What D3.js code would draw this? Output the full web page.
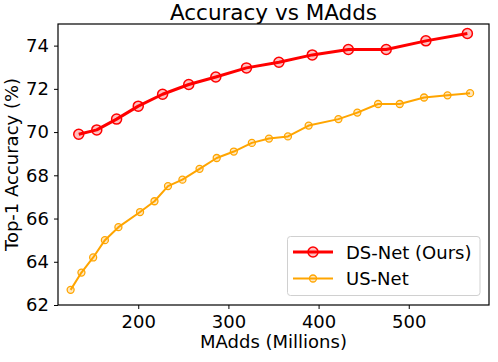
<!DOCTYPE html>
<html><head><meta charset="utf-8">
<script src="https://cdn.jsdelivr.net/npm/d3@7/dist/d3.min.js"></script>
<style>body{margin:0;background:#fff}svg{display:block}text{font-family:"DejaVu Sans",sans-serif}</style>
</head><body><div id="c"></div>
<script>
const dsX = [134, 154, 176, 200, 227, 256, 286, 320, 356, 393, 433, 475, 519, 565];
const dsY = [69.9, 70.1, 70.6, 71.2, 71.75, 72.2, 72.55, 72.97, 73.23, 73.57, 73.82, 73.82, 74.22, 74.56];
const usX = [125, 137, 150, 163, 178, 202, 218, 233, 249, 268, 287, 306, 326, 345, 366, 389, 422, 443, 466, 490, 517, 543, 568];
const usY = [62.7, 63.5, 64.2, 65.0, 65.6, 66.3, 66.8, 67.5, 67.8, 68.3, 68.8, 69.1, 69.5, 69.7, 69.8, 70.3, 70.6, 70.9, 71.3, 71.3, 71.6, 71.7, 71.8];
const xTicks = [200, 300, 400, 500];
const yTicks = [62, 64, 66, 68, 70, 72, 74];
const seriesNames = ["DS-Net (Ours)", "US-Net"];

const W = 498, H = 362;
const m = {l: 58, r: 9, t: 24, b: 57};
const svg = d3.select("#c").append("svg").attr("width", W).attr("height", H);
const x = d3.scaleLinear().domain([111, 589]).range([m.l, W - m.r]);
const y = d3.scaleLinear().domain([62, 75]).range([H - m.b, m.t]);

const gx = svg.append("g").attr("transform", `translate(0,${H - m.b})`)
  .call(d3.axisBottom(x).tickValues(xTicks).tickSize(4).tickPadding(6));
const gy = svg.append("g").attr("transform", `translate(${m.l},0)`)
  .call(d3.axisLeft(y).tickValues(yTicks).tickSize(4).tickPadding(5));
[gx, gy].forEach(g => {
  g.select(".domain").remove();
  g.selectAll("text").attr("font-size", 18).attr("fill", "#000").attr("font-family", "DejaVu Sans");
  g.selectAll("line").attr("stroke", "#000").attr("stroke-width", 1);
});

const series = [
  {name: seriesNames[0], xs: dsX, ys: dsY, color: "#ff0000", lw: 3, r: 5, mw: 1.5},
  {name: seriesNames[1], xs: usX, ys: usY, color: "#ffa500", lw: 2, r: 3.5, mw: 1.3}
];
const line = d3.line().x(d => x(d[0])).y(d => y(d[1]));
[series[1], series[0]].forEach(s => {
  const pts = s.xs.map((v, i) => [v, s.ys[i]]);
  svg.append("path").datum(pts).attr("d", line).attr("fill", "none")
    .attr("stroke", s.color).attr("stroke-width", s.lw).attr("stroke-linejoin", "round");
  svg.append("g").selectAll("circle").data(pts).join("circle")
    .attr("cx", d => x(d[0])).attr("cy", d => y(d[1])).attr("r", s.r)
    .attr("fill", s.color).attr("fill-opacity", 0.25)
    .attr("stroke", s.color).attr("stroke-width", s.mw);
});

svg.append("rect").attr("x", m.l).attr("y", m.t).attr("width", W - m.r - m.l).attr("height", H - m.b - m.t)
  .attr("fill", "none").attr("stroke", "#000").attr("stroke-width", 1.2);

svg.append("text").attr("x", (m.l + W - m.r) / 2).attr("y", 19.5).attr("text-anchor", "middle")
  .attr("font-size", 21.5).text("Accuracy vs MAdds");
svg.append("text").attr("x", (m.l + W - m.r) / 2).attr("y", 348).attr("text-anchor", "middle")
  .attr("font-size", 18).text("MAdds (Millions)");
svg.append("text").attr("transform", `translate(18,${(m.t + H - m.b) / 2}) rotate(-90)`)
  .attr("text-anchor", "middle").attr("font-size", 18).text("Top-1 Accuracy (%)");

const lg = svg.append("g");
lg.append("rect").attr("x", 287.5).attr("y", 236.5).attr("width", 192.5).attr("height", 59).attr("rx", 3)
  .attr("fill", "#fff").attr("fill-opacity", 0.8).attr("stroke", "#d0d0d0").attr("stroke-width", 1);
series.forEach((s, i) => {
  const yy = 252 + i * 26.5;
  lg.append("line").attr("x1", 293).attr("x2", 333).attr("y1", yy).attr("y2", yy)
    .attr("stroke", s.color).attr("stroke-width", s.lw);
  lg.append("circle").attr("cx", 313).attr("cy", yy).attr("r", s.r)
    .attr("fill", s.color).attr("fill-opacity", 0.25).attr("stroke", s.color).attr("stroke-width", s.mw);
  lg.append("text").attr("x", 346).attr("y", yy + 6.5).attr("font-size", 18).text(s.name);
});
</script></body></html>
